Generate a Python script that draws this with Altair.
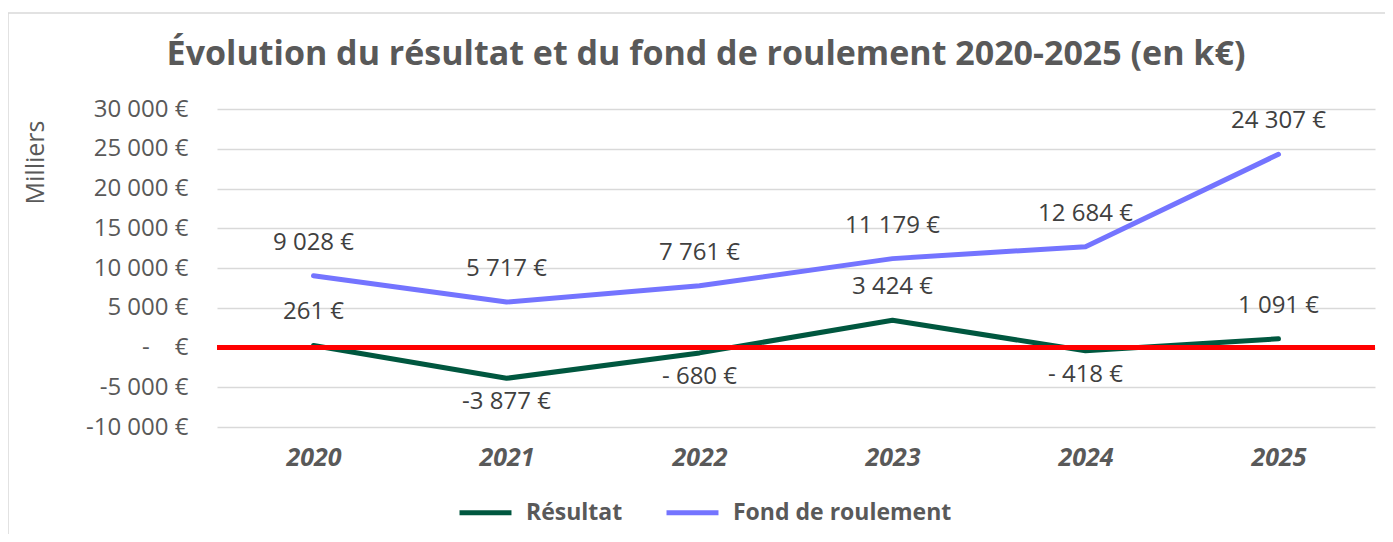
import altair as alt
import pandas as pd

years = ["2020", "2021", "2022", "2023", "2024", "2025"]
resultat = [261, -3877, -680, 3424, -418, 1091]
fond_roulement = [9028, 5717, 7761, 11179, 12684, 24307]
series_names = ["Résultat", "Fond de roulement"]
series_colors = ["#00573F", "#7474FF"]
y_ticks = [-10000, -5000, 0, 5000, 10000, 15000, 20000, 25000, 30000]


def fmt(v):
    s = f"{abs(v):,}".replace(",", " ")
    if v < 0:
        return ("- " if abs(v) < 1000 else "-") + s + " €"
    return s + " €"


rows = []
for name, vals in zip(series_names, [resultat, fond_roulement]):
    for yr, v in zip(years, vals):
        rows.append({"annee": yr, "serie": name, "valeur": v, "label": fmt(v)})
df = pd.DataFrame(rows)

FONT = "Open Sans"
GREY = "#595959"
FS = 24
NB = "\u00a0"

label_expr = (
    "datum.value == 0 ? '-" + NB * 4 + "€' : "
    "replace(replace(format(datum.value, ','), ',', '" + NB + "'), '\u2212', '-') + '" + NB + "€'"
)

x = alt.X("annee:N", title=None, sort=years,
          scale=alt.Scale(type="point", padding=0.5),
          axis=alt.Axis(domain=False, ticks=False, labelAngle=0, labelPadding=18,
                        labelFontSize=25, labelFontWeight="bold", labelFontStyle="italic",
                        labelColor=GREY, labelFont=FONT))
y = alt.Y("valeur:Q", title="Milliers",
          scale=alt.Scale(domain=[-10000, 30000], nice=False, zero=False),
          axis=alt.Axis(values=y_ticks, tickCount=20, domain=False, ticks=False, grid=True,
                        gridColor="#D9D9D9", gridWidth=1.5, labelPadding=29,
                        labelOverlap=False, labelBound=False,
                        labelFontSize=FS, labelColor=GREY, labelFont=FONT,
                        labelExpr=label_expr,
                        titleFontSize=25, titleFontWeight="normal", titleColor=GREY,
                        titleFont=FONT, titleX=-182, titleY=53, titleAngle=270,
                        titleAlign="center", titleBaseline="middle"))

color = alt.Color("serie:N", sort=series_names,
                  scale=alt.Scale(domain=series_names, range=series_colors),
                  legend=alt.Legend(title=None, orient="none", direction="horizontal",
                                    legendX=240, legendY=375, symbolType="stroke",
                                    symbolSize=2700, symbolStrokeWidth=5,
                                    labelFontSize=23, labelFontWeight="bold",
                                    labelColor=GREY, labelFont=FONT, labelOffset=12,
                                    labelLimit=400, columnPadding=33, padding=0))

frame = alt.Chart(pd.DataFrame({"f": [0]})).mark_rect(
    fill=None, stroke="#D9D9D9", strokeWidth=1.5
).encode(x=alt.value(-209), x2=alt.value(1200), y=alt.value(-96), y2=alt.value(440))

base = alt.Chart(df)
lines = base.mark_line(strokeWidth=5, strokeCap="round", strokeJoin="round").encode(
    x=x, y=y, color=color)

zero = base.mark_rule(color="#FF0000", strokeWidth=4).encode(y=alt.datum(0))

labels_up = base.transform_filter("datum.valeur >= 0").mark_text(
    dy=-33, fontSize=FS, color="#404040", font=FONT).encode(
    x=x, y=y, text="label:N")
labels_down = base.transform_filter("datum.valeur < 0").mark_text(
    dy=24, fontSize=FS, color="#404040", font=FONT).encode(
    x=x, y=y, text="label:N")

chart = alt.layer(frame, lines, zero, labels_up, labels_down).properties(
    width=1158, height=318,
    background="white",
    autosize=alt.AutoSizeParams(type="none"),
    padding={"left": 209, "top": 101, "right": 10, "bottom": 107},
    title=alt.TitleParams("Évolution du résultat et du fond de roulement 2020-2025 (en k€)",
                          fontSize=34, fontWeight="bold", color=GREY, font=FONT,
                          anchor="middle", dx=-90, offset=-60),
).configure_view(stroke=None)

chart.save("out.html", embed_options={"renderer": "svg", "actions": False})
